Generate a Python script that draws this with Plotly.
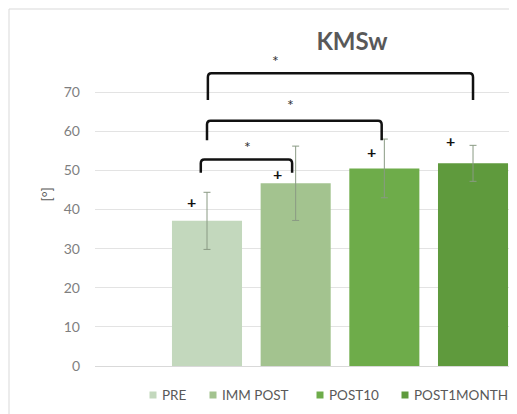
import plotly.graph_objects as go

# ---- data ----
categories = ["PRE", "IMM POST", "POST10", "POST1MONTH"]
means = [37.1, 46.7, 50.5, 51.8]
errors = [7.3, 9.5, 7.5, 4.6]
colors = ["#c3d8bd", "#a3c38f", "#6eac4a", "#5f9a3d"]
positions = [0, 1, 2, 3]

# significance brackets: (from x, to x, bar level, end level)
bracket_x0 = [-0.07, 0.0, 0.01]
bracket_x1 = [0.96, 1.97, 3.0]
bracket_top = [52.8, 62.7, 74.8]
bracket_end = [49.4, 57.7, 68.0]
star_x = [0.46, 0.94, 0.77]
star_y = [56.0, 66.9, 78.2]

# plus markers
plus_x = [-0.17, 0.80, 1.86, 2.75]
plus_y = [42.0, 49.1, 54.9, 57.7]

yticks = [0, 10, 20, 30, 40, 50, 60, 70]

# legend entry anchors (window pixel x of the swatch)
legend_px = [153, 213, 320, 405]

FONT = "Lato, 'Liberation Sans', sans-serif"

# The page body has an 8px margin; work in window pixels and compensate.
OFF = 8
W, H = 517 - OFF, 414 - OFF
L, R = 95 - OFF, 0
T = 53 - OFF
B = H - (366 - OFF)
PW, PH = W - L - R, H - T - B


def px2paper_x(px):
    return (px - OFF - L) / PW


def py2paper_y(py):
    return (H - B - (py - OFF)) / PH


fig = go.Figure()
for cat, m, e, c, p in zip(categories, means, errors, colors, positions):
    fig.add_trace(go.Bar(
        x=[p], y=[m], name=cat, width=0.79, showlegend=False,
        marker=dict(color=c, line=dict(width=0)),
        error_y=dict(type="data", array=[e], visible=True,
                     color="#8a9a84", thickness=1, width=3.5),
    ))

shapes = []
for x0, x1, yt, ye in zip(bracket_x0, bracket_x1, bracket_top, bracket_end):
    r = 0.04
    ry = 1.0
    path = (f"M {x0},{ye} L {x0},{yt - ry} Q {x0},{yt} {x0 + r},{yt} "
            f"L {x1 - r},{yt} Q {x1},{yt} {x1},{yt - ry} L {x1},{ye}")
    shapes.append(dict(type="path", path=path, xref="x", yref="y",
                       line=dict(color="#111111", width=2.5)))

# outer chart border
shapes.append(dict(type="rect", xref="paper", yref="paper",
                   x0=px2paper_x(9), x1=px2paper_x(530),
                   y0=py2paper_y(430), y1=py2paper_y(9),
                   line=dict(color="#d9d9d9", width=1), fillcolor="rgba(0,0,0,0)",
                   layer="below"))

annotations = []
for sx, sy in zip(star_x, star_y):
    annotations.append(dict(x=sx, y=sy, xref="x", yref="y", text="*",
                            showarrow=False, font=dict(size=16, color="#333333", family=FONT)))
for px, py in zip(plus_x, plus_y):
    annotations.append(dict(x=px, y=py, xref="x", yref="y", text="<b>+</b>",
                            showarrow=False, font=dict(size=16, color="#111111", family=FONT)))

annotations.append(dict(x=px2paper_x(35), y=py2paper_y(195), xref="paper", yref="paper",
                        text="[°]", showarrow=False, textangle=-90,
                        font=dict(size=14, color="#595959", family=FONT)))

# legend (swatch + label per category)
LEG_Y = 395
for cat, c, lx in zip(categories, colors, legend_px):
    shapes.append(dict(type="rect", xref="paper", yref="paper",
                       x0=px2paper_x(lx - 3.5), x1=px2paper_x(lx + 3.5),
                       y0=py2paper_y(LEG_Y + 3.5), y1=py2paper_y(LEG_Y - 3.5),
                       line=dict(width=0), fillcolor=c))
    annotations.append(dict(x=px2paper_x(lx + 7), y=py2paper_y(LEG_Y), xref="paper", yref="paper",
                            xanchor="left", yanchor="middle", text=cat, showarrow=False,
                            font=dict(size=13.5, color="#595959", family=FONT)))

fig.update_layout(
    width=W, height=H,
    margin=dict(l=L, r=R, t=T, b=B),
    paper_bgcolor="white", plot_bgcolor="white",
    font=dict(family=FONT, color="#595959", size=12),
    title=dict(text="<b>KMSw</b>", x=(352 - OFF) / W, xanchor="center",
               y=1 - (42 - OFF) / H, yanchor="middle",
               font=dict(size=24, color="#595959", family=FONT)),
    barmode="overlay",
    showlegend=False,
    xaxis=dict(range=[-1.263, 3.496], showticklabels=False, showgrid=False,
               zeroline=False, showline=False, ticks=""),
    yaxis=dict(range=[0, 80], tickvals=yticks, showgrid=True, gridcolor="#e3e3e3",
               gridwidth=1, zeroline=True, zerolinecolor="#d9d9d9", zerolinewidth=1,
               showline=False, ticks="", ticklabelstandoff=14,
               tickfont=dict(size=14, color="#7f7f7f", family=FONT)),
    shapes=shapes,
    annotations=annotations,
)

fig.write_html("out.html")
